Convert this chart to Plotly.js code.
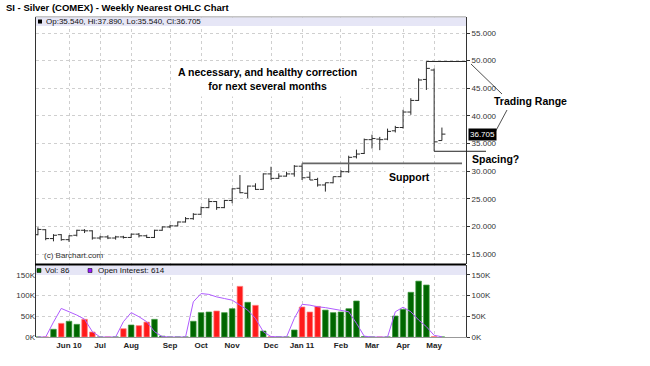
<!DOCTYPE html>
<html><head><meta charset="utf-8">
<script src="https://cdn.plot.ly/plotly-3.0.1.min.js"></script>
<style>html,body{margin:0;padding:0;background:#fff;}#chart{width:650px;height:366px;}</style>
</head><body><div id="chart"></div>
<script>
// ---- data (weekly bars, week starting Monday) ----
const weeks = ['2010-05-10','2010-05-17','2010-05-24','2010-05-31','2010-06-07','2010-06-14','2010-06-21','2010-06-28',
 '2010-07-05','2010-07-12','2010-07-19','2010-07-26','2010-08-02','2010-08-09','2010-08-16','2010-08-23','2010-08-30',
 '2010-09-06','2010-09-13','2010-09-20','2010-09-27','2010-10-04','2010-10-11','2010-10-18','2010-10-25',
 '2010-11-01','2010-11-08','2010-11-15','2010-11-22','2010-11-29','2010-12-06','2010-12-13','2010-12-20','2010-12-27',
 '2011-01-03','2011-01-10','2011-01-17','2011-01-24','2011-01-31','2011-02-07','2011-02-14','2011-02-21','2011-02-28',
 '2011-03-07','2011-03-14','2011-03-21','2011-03-28','2011-04-04','2011-04-11','2011-04-18','2011-04-25','2011-05-02','2011-05-09'];
const open  = [18.5,19.4,17.8,18.5,17.6,18.4,19.3,19.2, 17.9,18.1,17.9,18.1,18.0,18.6,18.3,18.0,19.3, 19.9,20.1,20.8,21.4,22.2,23.4,24.5,23.4,
 24.7,26.9,26.0,27.3,26.7,29.5,28.7,29.1,29.5, 30.9,28.9,28.5,27.5,27.9,29.0,29.9,32.6,33.2, 35.7,35.8,35.8,37.3,37.9,40.7,42.8,46.6,48.3,35.54];
const high  = [19.85,19.5,18.6,18.6,18.4,19.4,19.5,19.3, 18.3,18.4,18.3,18.3,18.7,18.8,18.5,19.4,20.0, 20.3,20.9,21.7,22.4,23.6,25.1,24.6,24.8,
 26.9,29.3,27.4,27.8,29.6,30.8,29.6,29.9,31.1, 31.4,29.9,28.8,27.9,29.0,30.2,32.8,33.9,35.9, 36.6,36.2,37.7,38.2,41.1,43.2,46.8,49.85,48.6,37.89];
const low   = [18.4,17.5,17.3,17.4,17.2,18.2,18.8,17.6, 17.6,17.7,17.6,17.8,17.9,18.0,17.9,17.9,19.2, 19.7,20.0,20.7,21.2,22.1,23.3,23.0,23.3,
 24.2,26.0,25.1,26.6,26.6,28.4,28.6,29.0,29.0, 28.4,28.4,27.2,26.3,27.8,28.9,29.7,32.3,33.1, 34.1,33.8,35.6,37.0,37.7,40.2,42.7,44.7,33.6,35.54];
const close = [19.45,17.8,18.4,17.6,18.3,19.3,19.2,17.9, 18.1,17.9,18.1,18.0,18.6,18.3,18.0,19.3,19.9, 20.1,20.8,21.4,22.2,23.4,24.5,23.4,24.7,
 26.8,26.1,27.3,26.7,29.5,28.7,29.1,29.5,30.9, 28.8,28.4,27.5,27.9,29.0,29.9,32.5,33.1,35.7, 35.9,35.7,37.2,37.9,40.7,42.8,46.5,48.6,35.3,36.705];
const volume = [0,0,18600,33000,38000,30600,42700,12000, 0,0,0,20000,29000,27400,36000,42700,2000, 0,0,0,38000,58800,60400,62800,58800,
 68400,122400,83800,76500,14500,1000,0,0,17000, 72500,60400,74000,65000,58800,60400,68400,87000,1000, 0,0,0,50700,66800,108000,135000,125600,1000,86];
const openInterest = [0,0,36000,69000,61000,53000,43000,13000, 0,0,0,37000,59000,49000,37000,13000,1000, 0,0,0,85000,105000,103000,97000,93000,
 89000,77000,65000,45000,13000,1000,0,0,45000, 79000,77000,73000,71000,68000,65000,61000,33000,2000, 0,0,0,61000,72000,61000,41000,25000,4000,614];
const tickDates  = ['2010-06-07','2010-07-05','2010-08-02','2010-09-06','2010-10-04','2010-11-01','2010-12-06','2011-01-03','2011-02-07','2011-03-07','2011-04-04','2011-05-02'];
const tickLabels = ['Jun 10','Jul','Aug','Sep','Oct','Nov','Dec','Jan 11','Feb','Mar','Apr','May'];
const priceTicks = [15,20,25,30,35,40,45,50,55];
const volTicks = [0,50000,100000,150000];
const volTickLabels = ['0K','50K','100K','150K'];

// ---- geometry helpers ----
const L=36, R=466, T=17, B=337;
const xr=[-0.25,55.1], pr=[13.19,57.9], pDom=[0.228,1], vr=[0,174000], vDom=[0,0.225];
const px = v => (v-L)/(R-L);
const py = v => (B-v)/(B-T);
const xi = i => (i-xr[0])/(xr[1]-xr[0]);
const yp = p => pDom[0]+(p-pr[0])/(pr[1]-pr[0])*(pDom[1]-pDom[0]);

const idx = weeks.map((w,i)=>i);
const n = weeks.length-1;
const FF = 'Liberation Sans, Arial, sans-serif';
const green='#006600', red='#ff1a1a';
const volColors = idx.map(i => close[i]>=open[i] ? green : red);
const volEdge = idx.map(i => close[i]>=open[i] ? '#3c9a3c' : '#ff8080');
const tickIdx = tickDates.map(d => weeks.indexOf(d));

const traces = [
 {type:'ohlc', x:idx, open:open, high:high, low:low, close:close, xaxis:'x', yaxis:'y',
  increasing:{line:{color:'#2a2a2a',width:1}}, decreasing:{line:{color:'#2a2a2a',width:1}}, tickwidth:0.45, hoverinfo:'skip'},
 {type:'bar', x:idx, y:volume, xaxis:'x', yaxis:'y2', width:0.72,
  marker:{color:volColors, line:{color:volEdge,width:0.7}}, hoverinfo:'skip'},
 {type:'scatter', mode:'lines', x:idx, y:openInterest, xaxis:'x', yaxis:'y3',
  line:{color:'#b05cff',width:1}, hoverinfo:'skip'}
];

const grid = {showgrid:true, gridcolor:'#cfcfcf', griddash:'dot', gridwidth:1};
const tf = {family:FF, size:8, color:'#333'};

const layout = {
 width:650, height:366, margin:{l:L, r:650-R, t:T, b:366-B}, paper_bgcolor:'#fff', plot_bgcolor:'#fff',
 showlegend:false, dragmode:false,
 title:{text:'<b>SI - Silver (COMEX) - Weekly Nearest OHLC Chart</b>', xref:'container', yref:'container',
   x:6/650, xanchor:'left', y:1-7.5/366, yanchor:'middle', font:{family:FF, size:9.5, color:'#000'}},
 xaxis:Object.assign({range:xr, anchor:'y2', tickmode:'array', tickvals:tickIdx, ticktext:tickLabels, ticks:'',
   showline:true, linecolor:'#999', linewidth:1, zeroline:false, rangeslider:{visible:false},
   tickfont:{family:FF, size:8, color:'#222', weight:'bold'}}, grid),
 yaxis:Object.assign({domain:pDom, range:pr, side:'right', anchor:'x', tickmode:'array', tickvals:priceTicks,
   ticktext:priceTicks.map(v=>v.toFixed(3)), ticks:'outside', ticklen:3, tickcolor:'#333',
   showline:true, linecolor:'#333', zeroline:false, tickfont:tf}, grid),
 yaxis2:Object.assign({domain:vDom, range:vr, side:'right', anchor:'x', tickmode:'array', tickvals:volTicks,
   ticktext:volTickLabels, ticks:'outside', ticklen:3, tickcolor:'#333',
   showline:true, linecolor:'#333', zeroline:false, tickfont:tf}, grid),
 yaxis3:{overlaying:'y2', range:vr, side:'left', anchor:'x', tickmode:'array', tickvals:volTicks, ticktext:volTickLabels,
   ticks:'', showgrid:false, showline:false, zeroline:false, tickfont:tf},
 shapes:[
  // panel borders
  {type:'line', xref:'paper', yref:'paper', x0:px(35.5), x1:px(35.5), y0:py(17), y1:py(337), line:{color:'#333',width:1}},
  {type:'line', xref:'paper', yref:'paper', x0:px(35.5), x1:px(466), y0:py(17), y1:py(17), line:{color:'#888',width:1}},
  // legend bands
  {type:'rect', xref:'paper', yref:'paper', x0:px(36), x1:px(466), y0:py(26), y1:py(17.5), fillcolor:'#e6e6f6', line:{width:0}, layer:'above'},
  {type:'rect', xref:'paper', yref:'paper', x0:px(36), x1:px(466), y0:py(275), y1:py(265.5), fillcolor:'#e6e6f6', line:{width:0}, layer:'above'},
  {type:'line', xref:'paper', yref:'paper', x0:px(35), x1:px(466), y0:py(264.5), y1:py(264.5), line:{color:'#000',width:2}},
  // legend squares
  {type:'rect', xref:'paper', yref:'paper', x0:px(38), x1:px(42), y0:py(23.5), y1:py(19.5), fillcolor:'#000', line:{width:0}, layer:'above'},
  {type:'rect', xref:'paper', yref:'paper', x0:px(37), x1:px(41), y0:py(272.5), y1:py(268.5), fillcolor:green, line:{color:'#000',width:0.5}, layer:'above'},
  {type:'rect', xref:'paper', yref:'paper', x0:px(88), x1:px(92), y0:py(272.5), y1:py(268.5), fillcolor:'#9a1aff', line:{color:'#000',width:0.5}, layer:'above'},
  // support line at Jan-3 high
  {type:'line', xref:'paper', yref:'paper', x0:xi(34), x1:px(462), y0:yp(high[34]), y1:yp(high[34]), line:{color:'#666',width:1.6}},
  // trading range top and bottom
  {type:'line', xref:'paper', yref:'paper', x0:xi(50), x1:px(466), y0:yp(high[50]), y1:yp(high[50]), line:{color:'#222',width:1}},
  {type:'line', xref:'paper', yref:'paper', x0:xi(51), x1:px(486), y0:yp(low[51]), y1:yp(low[51]), line:{color:'#222',width:1}},
  // pointer lines
  {type:'line', xref:'paper', yref:'paper', x0:px(471), x1:px(502), y0:py(64), y1:py(94), line:{color:'#222',width:0.8}},
  {type:'line', xref:'paper', yref:'paper', x0:px(507), x1:px(492), y0:py(110), y1:py(138), line:{color:'#222',width:0.8}}
 ],
 annotations:[
  {text:'Op:'+open[n].toFixed(3)+', Hi:'+high[n].toFixed(3)+', Lo:'+low[n].toFixed(3)+', Cl:'+close[n].toFixed(3),
   xref:'paper', yref:'paper', x:px(43.5), y:py(21.8), xanchor:'left', yanchor:'middle', showarrow:false, font:{family:FF,size:8,color:'#111'}},
  {text:'Vol: '+volume[n], xref:'paper', yref:'paper', x:px(43), y:py(270.5), xanchor:'left', yanchor:'middle', showarrow:false, font:{family:FF,size:8,color:'#111'}},
  {text:'Open Interest: '+openInterest[n], xref:'paper', yref:'paper', x:px(95.5), y:py(270.5), xanchor:'left', yanchor:'middle', showarrow:false, font:{family:FF,size:8,color:'#111'}},
  {text:'(c) Barchart.com', xref:'paper', yref:'paper', x:px(42), y:py(255.5), xanchor:'left', yanchor:'middle', showarrow:false, font:{family:FF,size:8,color:'#333'}},
  {text:'<b>A necessary, and healthy correction</b><br><b>for next several months</b>', xref:'paper', yref:'paper', x:px(267), y:py(79),
   xanchor:'center', yanchor:'middle', showarrow:false, bgcolor:'#fff', borderpad:4, font:{family:FF,size:10.5,color:'#000'}},
  {text:'<b>Support</b>', xref:'paper', yref:'paper', x:px(409), y:py(177), xanchor:'center', yanchor:'middle', showarrow:false,
   bgcolor:'#fff', borderpad:3, font:{family:FF,size:10.5,color:'#000'}},
  {text:'<b>Spacing?</b>', xref:'paper', yref:'paper', x:px(495), y:py(159), xanchor:'center', yanchor:'middle', showarrow:false,
   font:{family:FF,size:10.5,color:'#000'}},
  {text:'<b>Trading Range</b>', xref:'paper', yref:'paper', x:px(530), y:py(101), xanchor:'center', yanchor:'middle', showarrow:false,
   font:{family:FF,size:10.5,color:'#000'}},
  {text:close[n].toFixed(3), xref:'paper', yref:'paper', x:1, xshift:2, y:yp(close[n]), xanchor:'left', yanchor:'middle', showarrow:false,
   bgcolor:'#000', borderpad:1, font:{family:FF,size:8,color:'#fff'}}
 ]
};

Plotly.newPlot('chart', traces, layout, {displayModeBar:false, staticPlot:true});
</script></body></html>
